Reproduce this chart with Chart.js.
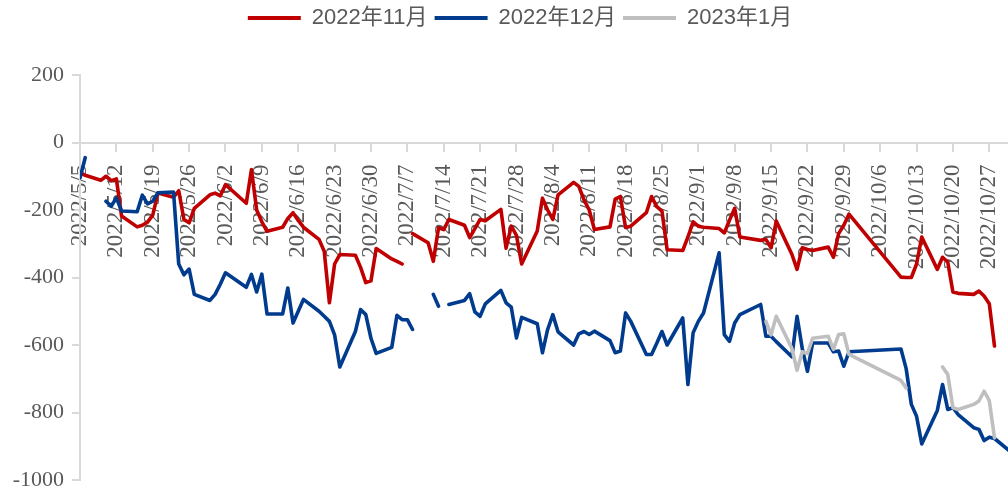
<!DOCTYPE html>
<html>
<head>
<meta charset="utf-8">
<script src="https://cdn.jsdelivr.net/npm/chart.js@4.4.0/dist/chart.umd.min.js"></script>
<style>
  html, body { margin: 0; padding: 0; background: #fff; }
  #wrap { width: 1008px; height: 492px; }
</style>
</head>
<body>
<div id="wrap"><canvas id="myChart"></canvas></div>
<script>
// trading days, 2022
var dates = ['5/5','5/6','5/9','5/10','5/11','5/12','5/13','5/16','5/17','5/18','5/19','5/20','5/23','5/24','5/25','5/26','5/27','5/30','5/31',
  '6/1','6/2','6/6','6/7','6/8','6/9','6/10','6/13','6/14','6/15','6/16','6/17','6/20','6/21','6/22','6/23','6/24','6/27','6/28','6/29','6/30',
  '7/1','7/4','7/5','7/6','7/7','7/8','7/11','7/12','7/13','7/14','7/15','7/18','7/19','7/20','7/21','7/22','7/25','7/26','7/27','7/28','7/29',
  '8/1','8/2','8/3','8/4','8/5','8/8','8/9','8/10','8/11','8/12','8/15','8/16','8/17','8/18','8/19','8/22','8/23','8/24','8/25','8/26','8/29','8/30','8/31',
  '9/1','9/2','9/5','9/6','9/7','9/8','9/9','9/13','9/14','9/15','9/16','9/19','9/20','9/21','9/22','9/23','9/26','9/27','9/28','9/29','9/30',
  '10/10','10/11','10/12','10/13','10/14','10/17','10/18','10/19','10/20','10/21','10/24','10/25','10/26','10/27','10/28','10/31'];

var seriesNames = ['2022年11月', '2022年12月', '2023年1月'];

var nov22 = [-90,-97,-112,-100,-113,-108,-218,-250,-245,-236,-215,-150,-162,-143,-228,-238,-195,-155,-150,
  -158,-125,-180,-80,-200,-235,-263,-251,-225,-208,-231,-251,-287,-322,-475,-360,-332,-334,-370,-415,-410,
  -314,-345,-352,-360,null,-270,-297,-352,-253,-258,-228,-245,-282,-255,-228,-232,-198,-313,-248,-275,-360,
  -262,-165,-200,-228,-155,-118,-130,-170,-200,-258,-250,-168,-160,-252,-248,-208,-160,-190,-203,-318,-320,-280,-235,
  -248,-251,-255,-268,-230,-195,-280,-290,-287,-312,-233,-331,-376,-312,-317,-320,-310,-340,-270,-245,-212,
  -399,-400,-400,-360,-280,-376,-340,-354,-443,-447,-450,-440,-455,-478,-603,null];

var dec22 = [-105,-45,null,-174,-189,-164,-203,-205,-156,-182,-174,-149,-147,-360,-392,-375,-450,-468,-450,
  -420,-386,-429,-391,-443,-390,-508,-508,-431,-535,-500,-465,-500,-515,-530,-570,-665,-560,-495,-510,-580,
  -625,-607,-512,-525,-525,-554,null,-450,-485,null,-480,-468,-448,-502,-515,-478,-438,-475,-488,-579,-518,
  -537,-623,-554,-510,-561,-600,-567,-560,-569,-559,-587,-623,-618,-505,-530,-628,-628,-595,-560,-600,-520,-717,-564,
  -530,-505,-327,-569,-589,-535,-510,-480,-574,-574,-590,-635,-515,-610,-678,-594,-594,-620,-618,-663,-620,
  -612,-670,-776,-811,-893,-794,-717,-791,-786,-806,-845,-850,-883,-873,-877,-915];

var jan23 = [null,null,null,null,null,null,null,null,null,null,null,null,null,null,null,null,null,null,null,
  null,null,null,null,null,null,null,null,null,null,null,null,null,null,null,null,null,null,null,null,null,
  null,null,null,null,null,null,null,null,null,null,null,null,null,null,null,null,null,null,null,null,null,
  null,null,null,null,null,null,null,null,null,null,null,null,null,null,null,null,null,null,null,null,null,null,null,
  null,null,null,null,null,null,null,null,-530,-570,-515,-610,-675,-620,-625,-580,-574,-613,-569,-567,-628,
  -705,-727,null,null,null,null,-665,-687,-786,-791,-776,-766,-737,-765,-875,null];

// weekly tick labels
var weekLabels = ['2022/5/5','2022/5/12','2022/5/19','2022/5/26','2022/6/2','2022/6/9','2022/6/16','2022/6/23','2022/6/30',
  '2022/7/7','2022/7/14','2022/7/21','2022/7/28','2022/8/4','2022/8/11','2022/8/18','2022/8/25','2022/9/1','2022/9/8',
  '2022/9/15','2022/9/22','2022/9/29','2022/10/6','2022/10/13','2022/10/20','2022/10/27'];

var yTicks = [200, 0, -200, -400, -600, -800, -1000];

function dayIndex(s) {
  var p = s.split('/');
  var n = p.length;
  return (Date.UTC(2022, +p[n-2] - 1, +p[n-1]) - Date.UTC(2022, 4, 5)) / 86400000;
}

function points(values) {
  return dates.map(function(d, i) { return { x: dayIndex(d), y: values[i] }; });
}

// push the plot area down below the legend, nudge legend right
var legendGap = {
  id: 'legendGap',
  beforeInit: function(chart) {
    var fit = chart.legend.fit;
    chart.legend.fit = function() {
      fit.call(this);
      this.height += 36;
    };
  },
  afterLayout: function(chart) {
    chart.legend.left += 16;
    chart.legend.right += 16;
  }
};

var serif = "'Liberation Serif', 'Times New Roman', serif";

var ctx = document.getElementById('myChart').getContext('2d');
var chart = new Chart(ctx, {
  type: 'line',
  data: {
    datasets: [
      { label: seriesNames[0], data: points(nov22), borderColor: '#C00000', backgroundColor: '#C00000', order: 2 },
      { label: seriesNames[1], data: points(dec22), borderColor: '#003B8E', backgroundColor: '#003B8E', order: 1 },
      { label: seriesNames[2], data: points(jan23), borderColor: '#BFBFBF', backgroundColor: '#BFBFBF', order: 0 }
    ]
  },
  options: {
    responsive: true,
    maintainAspectRatio: false,
    animation: false,
    spanGaps: false,
    layout: { padding: { left: 0, right: 0, top: 0, bottom: 12 } },
    elements: {
      point: { radius: 0 },
      line: { borderWidth: 3.6, tension: 0, borderJoinStyle: 'round', borderCapStyle: 'round' }
    },
    plugins: {
      tooltip: { enabled: false },
      legend: {
        position: 'top',
        labels: {
          boxWidth: 53,
          boxHeight: 4,
          padding: 7,
          color: '#595959',
          font: { family: "'Liberation Sans', 'Noto Sans CJK SC', sans-serif", size: 22 },
          generateLabels: function(chart) {
            var items = Chart.defaults.plugins.legend.labels.generateLabels(chart);
            items.sort(function(a, b) { return a.datasetIndex - b.datasetIndex; });
            items.forEach(function(it) { it.lineWidth = 0; });
            return items;
          }
        }
      }
    },
    scales: {
      x: {
        type: 'linear',
        position: { y: 0 },
        min: 0,
        max: 178.6,
        afterFit: function(scale) {
          scale.height = 0;
          scale.paddingLeft = 0;
          scale.paddingRight = 0;
        },
        afterBuildTicks: function(scale) {
          scale.ticks = weekLabels.map(function(s) { return { value: dayIndex(s) }; });
        },
        grid: { drawOnChartArea: false, tickLength: 8, color: '#D9D9D9', lineWidth: 2 },
        border: { color: '#D9D9D9', width: 2 },
        ticks: {
          autoSkip: false,
          minRotation: 90,
          maxRotation: 90,
          padding: 14,
          color: '#595959',
          font: { family: serif, size: 23 },
          callback: function(v) {
            for (var i = 0; i < weekLabels.length; i++) {
              if (dayIndex(weekLabels[i]) === v) return weekLabels[i];
            }
            return '';
          }
        }
      },
      y: {
        min: -1000,
        max: 200,
        afterFit: function(scale) {
          scale.width = 80;
          scale.paddingTop = 0;
          scale.paddingBottom = 0;
        },
        afterBuildTicks: function(scale) {
          scale.ticks = yTicks.map(function(v) { return { value: v }; });
        },
        grid: { drawOnChartArea: false, tickLength: 8, color: '#D9D9D9', lineWidth: 2 },
        border: { color: '#D9D9D9', width: 2 },
        ticks: {
          padding: 8,
          color: '#595959',
          font: { family: serif, size: 22 },
          callback: function(v) { return String(v); }
        }
      }
    }
  },
  plugins: [legendGap]
});
</script>
</body>
</html>
